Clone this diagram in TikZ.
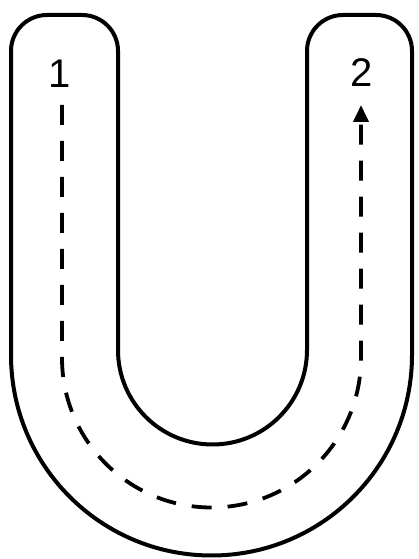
\documentclass[tikz,border=0pt]{standalone}
\usepackage{fontspec}
\setmainfont{Liberation Sans}
\usetikzlibrary{arrows.meta}
\begin{document}
\begin{tikzpicture}[x=1pt,y=1pt,
  outline/.style={line width=4pt, line join=round},
  route/.style={line width=3.8pt, dash pattern=on 20pt off 16pt, -{Triangle[length=17pt,width=15pt]}},
  numlabel/.style={font=\fontsize{40}{41}\selectfont, inner sep=0pt}]
\useasboundingbox (0,0) rectangle (419,559);
% U outline
\draw[outline] (11,204) -- (11,508) arc[start angle=180,end angle=90,radius=36]
  -- (82,544) arc[start angle=90,end angle=0,radius=36]
  -- (118,209) arc[start angle=180,end angle=360,radius=94.5]
  -- (307,508) arc[start angle=180,end angle=90,radius=36]
  -- (376,544) arc[start angle=90,end angle=0,radius=36]
  -- (412,204) arc[start angle=0,end angle=-180,radius=200.5] -- cycle;
% labels
\node[numlabel] (one) at (60,485) {1};
\node[numlabel] (two) at (362,486) {2};
\coordinate (start) at (62,454);
\coordinate (finish) at (361,454);
% dashed route
\draw[route] (start) -- (62,201) arc[start angle=180,end angle=360,radius=149.5] -- (finish);
\end{tikzpicture}
\end{document}
